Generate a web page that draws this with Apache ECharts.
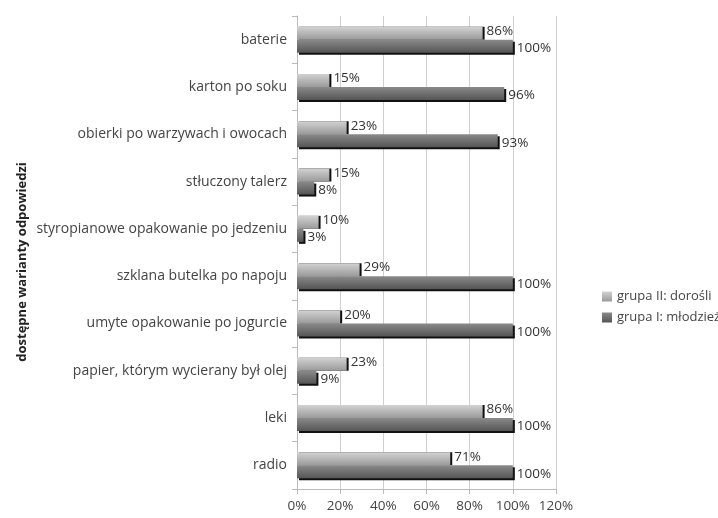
<!DOCTYPE html>
<html><head><meta charset="utf-8">
<script src="https://cdn.jsdelivr.net/npm/echarts@6/dist/echarts.min.js"></script>
<style>html,body{margin:0;padding:0;background:#fff}#c{width:718px;height:518px}</style>
</head><body><div id="c"></div>
<script>
var categories = ['baterie','karton po soku','obierki po warzywach i owocach','stłuczony talerz','styropianowe opakowanie po jedzeniu','szklana butelka po napoju','umyte opakowanie po jogurcie','papier, którym wycierany był olej','leki','radio'];
var adults = [86,15,23,15,10,29,20,23,86,71];
var youth = [100,96,93,8,3,100,100,9,100,100];
var seriesNames = ['grupa II: dorośli','grupa I: młodzież'];
var axisTitle = 'dostępne warianty odpowiedzi';

var chart = echarts.init(document.getElementById('c'));
var font = 'Open Sans, Noto Sans, sans-serif';
chart.setOption({
  animation:false,
  textStyle:{fontFamily:font},
  grid:{left:297,right:162,top:16,bottom:29,containLabel:false},
  legend:{
    orient:'vertical', left:597, top:285, itemWidth:10, itemHeight:10, itemGap:8,
    icon:'rect',
    textStyle:{fontFamily:font,fontSize:13,color:'#444'},
    data:seriesNames
  },
  graphic:[{type:'text',rotation:Math.PI/2,
    style:{text:axisTitle,font:'bold 13px Open Sans',fill:'#222',textAlign:'center',textVerticalAlign:'middle'},
    position:[22,262]}],
  xAxis:{
    type:'value', min:0, max:120, interval:20,
    axisLine:{show:true,lineStyle:{color:'#bbb'}},
    axisTick:{show:true,length:5,lineStyle:{color:'#bbb'}},
    axisLabel:{formatter:function(v){return v+'%';},fontFamily:font,fontSize:13.5,color:'#444',margin:10},
    splitLine:{show:true,lineStyle:{color:'#d0d0d0'}}
  },
  yAxis:{
    type:'category', inverse:true, data:categories,
    axisLine:{show:true,lineStyle:{color:'#bbb'}},
    axisTick:{show:true,length:5,lineStyle:{color:'#bbb'}},
    axisLabel:{fontFamily:font,fontSize:14,color:'#444',margin:10}
  },
  series:[
    {name:seriesNames[0], type:'bar', data:adults, barWidth:13, barGap:'0%',
     itemStyle:{color:new echarts.graphic.LinearGradient(0,0,0,1,[{offset:0,color:'#d2d2d2'},{offset:1,color:'#9a9a9a'}]),
       shadowColor:'#111',shadowOffsetX:2,shadowOffsetY:0,shadowBlur:0},
     label:{show:true,position:'right',distance:4,formatter:'{c}%',fontFamily:font,fontSize:13.5,color:'#333',offset:[0,-2]}},
    {name:seriesNames[1], type:'bar', data:youth, barWidth:13, barGap:'0%',
     itemStyle:{color:new echarts.graphic.LinearGradient(0,0,0,1,[{offset:0,color:'#8a8a8a'},{offset:1,color:'#555'}]),
       shadowColor:'#111',shadowOffsetX:2,shadowOffsetY:2,shadowBlur:0},
     label:{show:true,position:'right',distance:4,formatter:'{c}%',fontFamily:font,fontSize:13.5,color:'#333',offset:[0,2]}}
  ]
});
</script></body></html>
